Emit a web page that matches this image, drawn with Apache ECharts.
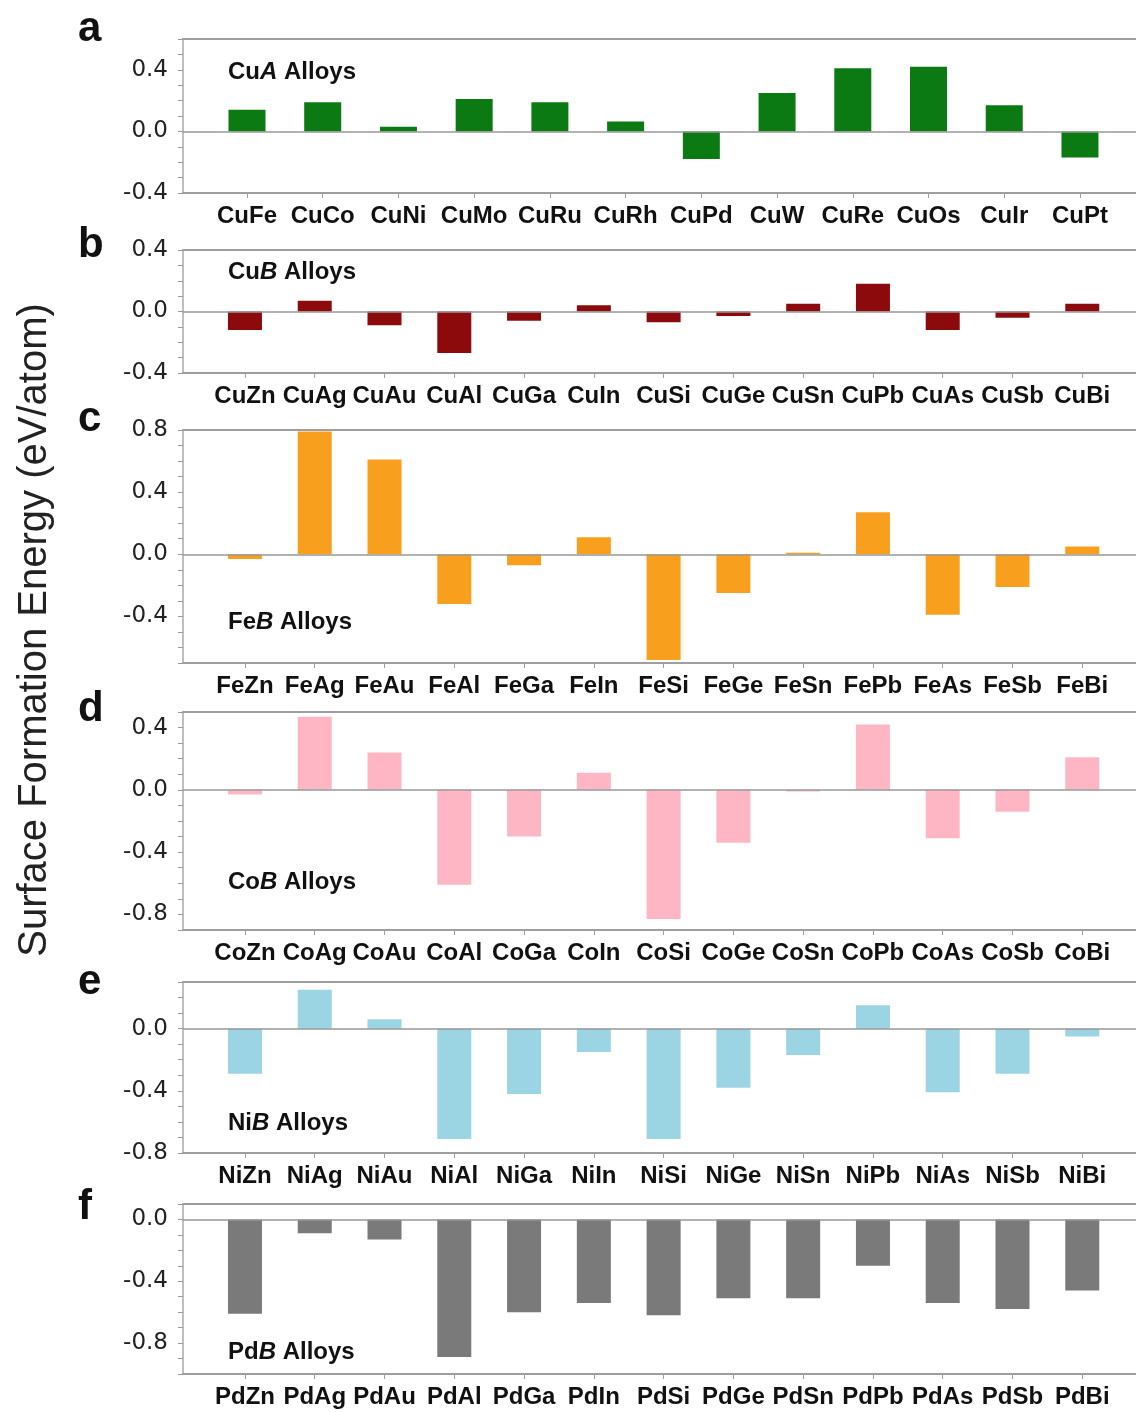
<!DOCTYPE html>
<html>
<head>
<meta charset="utf-8">
<script src="https://cdn.jsdelivr.net/npm/echarts@6/dist/echarts.min.js"></script>
<style>
  html, body { margin: 0; padding: 0; background: #fff; }
  #main { width: 1136px; height: 1412px; }
</style>
</head>
<body>
<div id="main"></div>
<script>
// categories
var cuACats = ['CuFe', 'CuCo', 'CuNi', 'CuMo', 'CuRu', 'CuRh', 'CuPd', 'CuW', 'CuRe', 'CuOs', 'CuIr', 'CuPt']
var elemB = ['Zn', 'Ag', 'Au', 'Al', 'Ga', 'In', 'Si', 'Ge', 'Sn', 'Pb', 'As', 'Sb', 'Bi']

// surface formation energies (eV/atom)
var cuAVals = [0.14, 0.19, 0.03, 0.21, 0.19, 0.065, -0.18, 0.25, 0.41, 0.42, 0.17, -0.17]
var cuBVals = [-0.12, 0.07, -0.09, -0.27, -0.06, 0.04, -0.07, -0.03, 0.05, 0.18, -0.12, -0.04, 0.05]
var feBVals = [-0.03, 0.79, 0.61, -0.32, -0.07, 0.11, -0.68, -0.25, 0.01, 0.27, -0.39, -0.21, 0.05]
var coBVals = [-0.03, 0.47, 0.24, -0.61, -0.30, 0.11, -0.83, -0.34, -0.01, 0.42, -0.31, -0.14, 0.21]
var niBVals = [-0.29, 0.25, 0.06, -0.71, -0.42, -0.15, -0.71, -0.38, -0.17, 0.15, -0.41, -0.29, -0.05]
var pdBVals = [-0.61, -0.09, -0.13, -0.89, -0.60, -0.54, -0.62, -0.51, -0.51, -0.30, -0.54, -0.58, -0.46]

function withHost(host) {
  return elemB.map(function (e) { return host + e })
}

// panel layout + style
var panels = [
  { letter: 'a', host: 'Cu', tag: 'A', cats: cuACats, vals: cuAVals, color: '#0b7a12', top: 39, height: 154, min: -0.4, max: 0.6, letterTop: 8, tagTop: 60 },
  { letter: 'b', host: 'Cu', tag: 'B', cats: withHost('Cu'), vals: cuBVals, color: '#8c0a0c', top: 250, height: 123, min: -0.4, max: 0.4, letterTop: 224, tagTop: 260 },
  { letter: 'c', host: 'Fe', tag: 'B', cats: withHost('Fe'), vals: feBVals, color: '#f8a01e', top: 430, height: 233, min: -0.7, max: 0.8, letterTop: 398, tagTop: 610 },
  { letter: 'd', host: 'Co', tag: 'B', cats: withHost('Co'), vals: coBVals, color: '#ffb6c4', top: 712, height: 218, min: -0.9, max: 0.5, letterTop: 688, tagTop: 870 },
  { letter: 'e', host: 'Ni', tag: 'B', cats: withHost('Ni'), vals: niBVals, color: '#9bd4e3', top: 982, height: 171, min: -0.8, max: 0.3, letterTop: 961, tagTop: 1111 },
  { letter: 'f', host: 'Pd', tag: 'B', cats: withHost('Pd'), vals: pdBVals, color: '#7a7a7a', top: 1204, height: 170, min: -1.0, max: 0.1, letterTop: 1186, tagTop: 1340 }
]

var chart = echarts.init(document.getElementById('main'))

var grid = [], xAxis = [], yAxis = [], series = [], title = []
var lineCol = '#9e9e9e'

panels.forEach(function (p, k) {
  var n = p.cats.length
  var idx = p.cats.map(function (c, i) { return i + 1 })
  var xmin = n === 12 ? 0.155 : 0.112
  var xmax = n === 12 ? 12.74 : 13.77

  grid.push({ left: 183, right: 0, top: p.top, height: p.height })

  // bottom axis with category labels
  xAxis.push({
    type: 'value', gridIndex: k, min: xmin, max: xmax,
    splitLine: { show: false },
    axisLine: { onZero: false, lineStyle: { color: lineCol, width: 2 } },
    axisTick: { customValues: idx, length: 5, lineStyle: { color: lineCol } },
    axisLabel: {
      customValues: idx, margin: 11,
      color: '#111', fontSize: 24, fontWeight: 'bold', fontFamily: 'Liberation Sans',
      formatter: function (v) { return p.cats[Math.round(v) - 1] || '' }
    }
  })
  // top border line
  xAxis.push({
    type: 'value', gridIndex: k, position: 'top', min: xmin, max: xmax,
    splitLine: { show: false }, axisTick: { show: false }, axisLabel: { show: false },
    axisLine: { onZero: false, lineStyle: { color: lineCol, width: 2 } }
  })

  yAxis.push({
    type: 'value', gridIndex: k, min: p.min, max: p.max, interval: 0.1,
    splitLine: { show: false },
    axisLine: { show: true, lineStyle: { color: '#aaa', width: 1.5 } },
    axisTick: { show: true, length: 5, lineStyle: { color: '#999' } },
    axisLabel: {
      margin: 15, color: '#222', fontSize: 23, fontFamily: 'DejaVu Sans',
      formatter: function (v) {
        return Math.round(v * 10) % 4 === 0 ? (Math.round(v * 10) / 10).toFixed(1) : ''
      }
    }
  })

  series.push({
    type: 'bar', xAxisIndex: k * 2, yAxisIndex: k,
    barWidth: n === 12 ? 37 : 34,
    itemStyle: { color: p.color },
    data: p.vals.map(function (v, i) { return [i + 1, v] }),
    markLine: {
      silent: true, symbol: 'none', animation: false,
      label: { show: false },
      lineStyle: { color: '#999', width: 1.5, type: 'solid' },
      data: [{ yAxis: 0 }]
    }
  })

  title.push({
    text: p.letter, left: 78, top: p.letterTop, padding: 0,
    textStyle: { fontSize: 42, fontWeight: 'bold', color: '#111', fontFamily: 'Liberation Sans', lineHeight: 42 }
  })
  title.push({
    text: '{b|' + p.host + '}{i|' + p.tag + '}{b| Alloys}', left: 228, top: p.tagTop, padding: 0,
    textStyle: {
      rich: {
        b: { fontSize: 24, fontWeight: 'bold', color: '#111', fontFamily: 'Liberation Sans', lineHeight: 24 },
        i: { fontSize: 24, fontWeight: 'bold', fontStyle: 'italic', color: '#111', fontFamily: 'Liberation Sans', lineHeight: 24 }
      }
    }
  })
})

var option = {
  animation: false,
  backgroundColor: '#fff',
  title: title,
  grid: grid,
  xAxis: xAxis,
  yAxis: yAxis,
  series: series,
  graphic: [{
    type: 'text', x: 35, y: 630, rotation: Math.PI / 2,
    style: {
      text: 'Surface Formation Energy (eV/atom)',
      font: '40px "Liberation Sans"', fill: '#222',
      align: 'center', verticalAlign: 'middle'
    }
  }]
}

chart.setOption(option)
</script>
</body>
</html>
